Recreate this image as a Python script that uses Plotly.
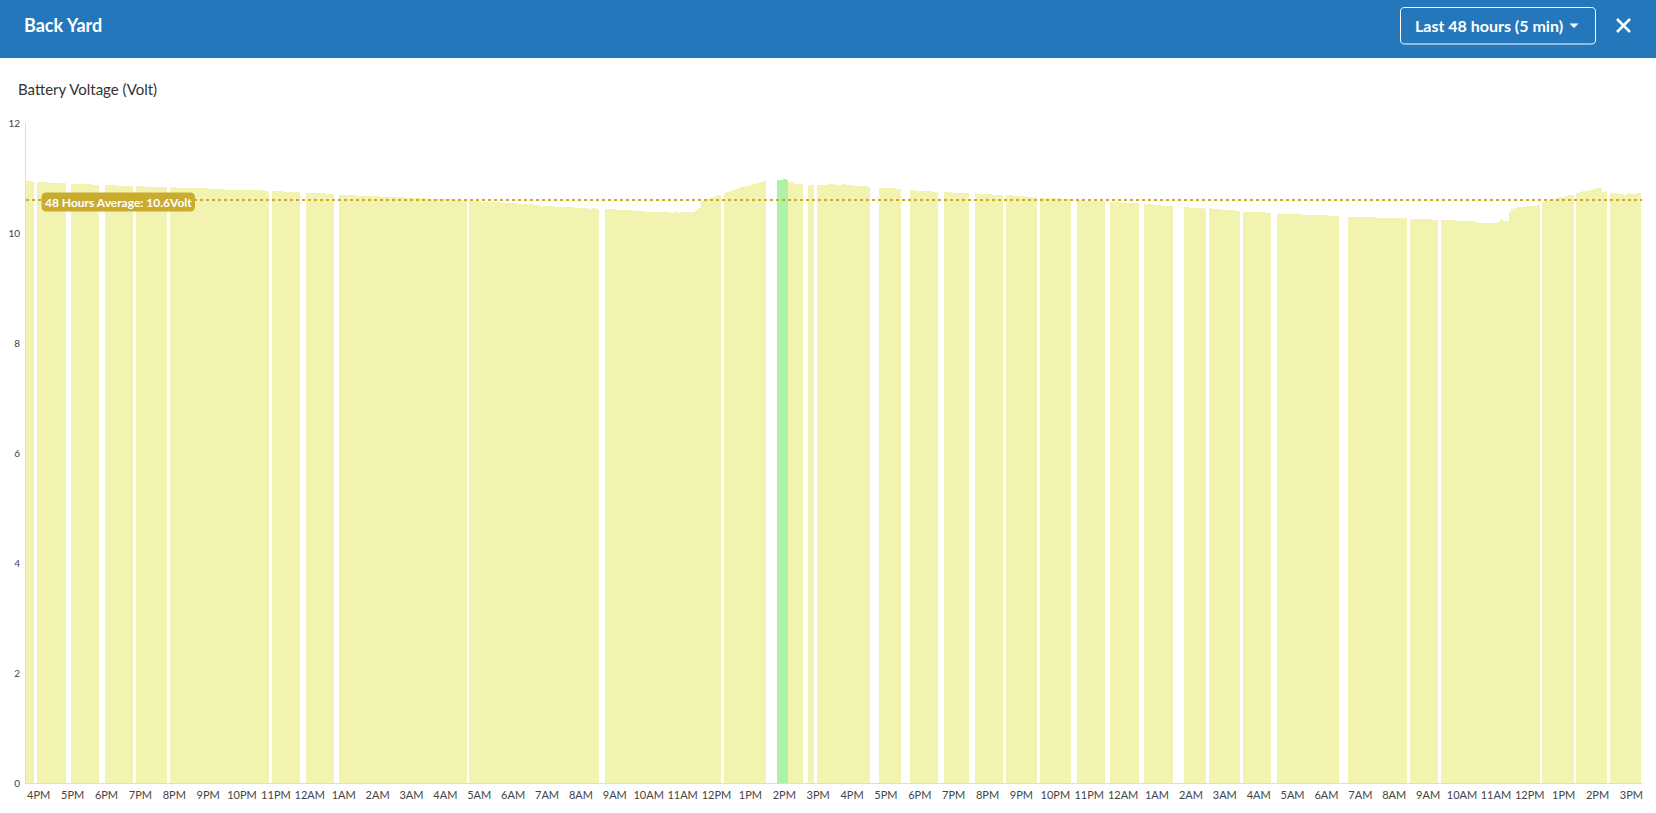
import datetime as dt
import plotly.graph_objects as go

# ---------------- data ----------------
# 5-minute slots; slot 0 centred at start_time. Each segment = consecutive readings.
start_time = dt.datetime(2024, 1, 1, 15, 40)
slot_minutes = 5

seg_start = [0, 4, 16, 28, 39, 51, 87, 99, 111, 157, 205, 247, 266, 270, 277, 280,
             302, 313, 325, 336, 347, 359, 372, 384, 396, 410, 419, 431, 443, 468,
             490, 501, 537, 549, 561]

seg_volts = [
    [10.94, 10.94, 10.93],
    [10.92, 10.92, 10.92, 10.92, 10.91, 10.91, 10.91, 10.91, 10.91, 10.91],
    [10.90, 10.90, 10.90, 10.89, 10.89, 10.89, 10.89, 10.88, 10.88, 10.88],
    [10.87, 10.87, 10.87, 10.87, 10.86, 10.86, 10.86, 10.86, 10.86, 10.86],
    [10.85, 10.85, 10.85, 10.84, 10.84, 10.84, 10.84, 10.83, 10.83, 10.83, 10.83],
    [10.83, 10.83, 10.82, 10.82, 10.82, 10.82, 10.82, 10.81, 10.81, 10.81,
     10.81, 10.81, 10.81, 10.80, 10.80, 10.80, 10.80, 10.80, 10.80, 10.79,
     10.79, 10.79, 10.79, 10.79, 10.79, 10.79, 10.78, 10.78, 10.78, 10.78,
     10.78, 10.78, 10.78, 10.77, 10.77],
    [10.76, 10.76, 10.76, 10.76, 10.75, 10.75, 10.75, 10.75, 10.75, 10.75],
    [10.73, 10.73, 10.73, 10.72, 10.72, 10.72, 10.72, 10.71, 10.71, 10.71],
    [10.70, 10.70, 10.70, 10.69, 10.69, 10.69, 10.68, 10.68, 10.68, 10.68,
     10.67, 10.67, 10.67, 10.67, 10.66, 10.66, 10.66, 10.66, 10.66, 10.65,
     10.65, 10.65, 10.65, 10.64, 10.64, 10.64, 10.64, 10.63, 10.63, 10.63,
     10.63, 10.62, 10.62, 10.62, 10.62, 10.61, 10.61, 10.61, 10.61, 10.61,
     10.60, 10.60, 10.60, 10.60, 10.60],
    [10.58, 10.58, 10.58, 10.58, 10.57, 10.57, 10.57, 10.57, 10.56, 10.56,
     10.56, 10.55, 10.55, 10.55, 10.54, 10.54, 10.54, 10.53, 10.53, 10.53,
     10.52, 10.52, 10.52, 10.51, 10.51, 10.50, 10.50, 10.49, 10.49, 10.49,
     10.48, 10.48, 10.48, 10.48, 10.48, 10.47, 10.47, 10.46, 10.46, 10.45,
     10.45, 10.45, 10.44, 10.46, 10.45, 10.44],
    [10.44, 10.44, 10.43, 10.43, 10.42, 10.42, 10.42, 10.41, 10.41, 10.41,
     10.40, 10.40, 10.40, 10.40, 10.39, 10.39, 10.39, 10.38, 10.38, 10.38,
     10.38, 10.38, 10.38, 10.37, 10.38, 10.38, 10.37, 10.38, 10.38, 10.38,
     10.38, 10.39, 10.41, 10.45, 10.58, 10.60, 10.62, 10.64, 10.66, 10.68, 10.69],
    [10.73, 10.75, 10.77, 10.79, 10.80, 10.82, 10.84, 10.85, 10.86, 10.88,
     10.89, 10.90, 10.91, 10.93, 10.94],
    [10.97, 10.97, 10.98, 10.97],
    [10.93, 10.93, 10.90, 10.90, 10.90],
    [10.87, 10.87],
    [10.88, 10.88, 10.87, 10.87, 10.90, 10.89, 10.88, 10.87, 10.87, 10.90,
     10.88, 10.87, 10.87, 10.86, 10.86, 10.85, 10.85, 10.85, 10.84],
    [10.82, 10.82, 10.82, 10.81, 10.81, 10.81, 10.80, 10.80],
    [10.78, 10.78, 10.77, 10.77, 10.76, 10.76, 10.76, 10.76, 10.75, 10.75],
    [10.74, 10.74, 10.74, 10.73, 10.73, 10.73, 10.72, 10.72, 10.72],
    [10.72, 10.71, 10.71, 10.71, 10.71, 10.71, 10.70, 10.70, 10.69, 10.69],
    [10.69, 10.69, 10.68, 10.68, 10.67, 10.67, 10.67, 10.66, 10.66, 10.66, 10.65],
    [10.64, 10.64, 10.64, 10.63, 10.63, 10.63, 10.63, 10.62, 10.62, 10.62, 10.62],
    [10.60, 10.60, 10.60, 10.59, 10.59, 10.59, 10.59, 10.58, 10.58, 10.58],
    [10.57, 10.57, 10.56, 10.56, 10.55, 10.55, 10.55, 10.55, 10.54, 10.54],
    [10.52, 10.52, 10.52, 10.51, 10.51, 10.51, 10.50, 10.50, 10.49, 10.49],
    [10.47, 10.47, 10.46, 10.46, 10.46, 10.45, 10.45, 10.44],
    [10.45, 10.43, 10.43, 10.43, 10.42, 10.42, 10.42, 10.41, 10.41, 10.40, 10.40],
    [10.39, 10.39, 10.39, 10.38, 10.38, 10.38, 10.38, 10.38, 10.37, 10.37],
    [10.35, 10.35, 10.35, 10.34, 10.34, 10.34, 10.34, 10.34, 10.34, 10.33,
     10.33, 10.33, 10.33, 10.33, 10.32, 10.32, 10.32, 10.32, 10.31, 10.31,
     10.31, 10.31],
    [10.30, 10.30, 10.30, 10.30, 10.30, 10.29, 10.29, 10.29, 10.29, 10.29,
     10.28, 10.28, 10.28, 10.27, 10.27, 10.27, 10.27, 10.27, 10.27, 10.27, 10.27],
    [10.26, 10.26, 10.26, 10.25, 10.26, 10.25, 10.25, 10.25, 10.24, 10.24],
    [10.23, 10.23, 10.23, 10.23, 10.23, 10.22, 10.22, 10.22, 10.22,
     10.21, 10.21, 10.21, 10.20,
     10.18, 10.18, 10.18, 10.18, 10.19, 10.18, 10.18,
     10.20, 10.25, 10.21, 10.22, 10.38, 10.43, 10.46, 10.47, 10.47, 10.48,
     10.49, 10.49, 10.49, 10.50, 10.51],
    [10.57, 10.58, 10.60, 10.61, 10.62, 10.63, 10.65, 10.66, 10.67, 10.69, 10.70],
    [10.73, 10.75, 10.76, 10.77, 10.78, 10.79, 10.80, 10.81, 10.82, 10.75, 10.76],
    [10.72, 10.72, 10.72, 10.71, 10.71, 10.70, 10.72, 10.71, 10.71, 10.73, 10.72],
]

highlight_segment = 12          # the green (peak) segment
average_volt = 10.6
y_ticks = [0, 2, 4, 6, 8, 10, 12]
tick_hours_start = dt.datetime(2024, 1, 1, 16, 0)
tick_hours_count = 48

# ---------------- build ----------------
W, H = 1656, 813
ML, MR, MT, MB = 26, 14, 123, 30
PW, PH = W - ML - MR, H - MT - MB


def px(x):
    return (x - ML) / PW


def py(y):
    return (H - MB - y) / PH


yellow_x, yellow_y, green_x, green_y = [], [], [], []
for i, (s, vals) in enumerate(zip(seg_start, seg_volts)):
    for j, v in enumerate(vals):
        t = start_time + dt.timedelta(minutes=slot_minutes * (s + j))
        if i == highlight_segment:
            green_x.append(t)
            green_y.append(v)
        else:
            yellow_x.append(t)
            yellow_y.append(v)

bar_w = slot_minutes * 60 * 1000

fig = go.Figure()
fig.add_trace(go.Bar(x=yellow_x, y=yellow_y, width=bar_w,
                     marker=dict(color="rgb(242,242,177)", line=dict(width=0)),
                     hoverinfo="x+y"))
fig.add_trace(go.Bar(x=green_x, y=green_y, width=bar_w,
                     marker=dict(color="rgb(173,242,168)", line=dict(width=0)),
                     hoverinfo="x+y"))

tickvals = [tick_hours_start + dt.timedelta(hours=h) for h in range(tick_hours_count)]
ticktext = [t.strftime("%I%p").lstrip("0") for t in tickvals]

x_range = [start_time - dt.timedelta(minutes=2.5),
           start_time - dt.timedelta(minutes=2.5) + dt.timedelta(minutes=PW / 2.824 * 5)]


def rrect(x0, y0, x1, y1, r):
    pts = lambda x, y: f"{px(x):.6f},{py(y):.6f}"
    return (f"M {pts(x0 + r, y0)} L {pts(x1 - r, y0)} Q {pts(x1, y0)} {pts(x1, y0 + r)} "
            f"L {pts(x1, y1 - r)} Q {pts(x1, y1)} {pts(x1 - r, y1)} "
            f"L {pts(x0 + r, y1)} Q {pts(x0, y1)} {pts(x0, y1 - r)} "
            f"L {pts(x0, y0 + r)} Q {pts(x0, y0)} {pts(x0 + r, y0)} Z")


header_blue = "rgb(36,119,187)"
gold = "rgb(201,172,46)"

shapes = [
    # header bar
    dict(type="rect", xref="paper", yref="paper", x0=px(-20), x1=px(W + 20), y0=py(58), y1=py(-10),
         fillcolor=header_blue, line=dict(width=0), layer="above"),
    # dropdown box
    dict(type="path", xref="paper", yref="paper", path=rrect(1400.5, 7.5, 1595.5, 44, 4),
         fillcolor=header_blue, line=dict(color="white", width=1), layer="above"),
    # caret
    dict(type="path", xref="paper", yref="paper",
         path=f"M {px(1569.5)},{py(23.5)} L {px(1578.5)},{py(23.5)} L {px(1574)},{py(28)} Z",
         fillcolor="white", line=dict(width=0), layer="above"),
    # close X
    dict(type="line", xref="paper", yref="paper", x0=px(1617), y0=py(19), x1=px(1630), y1=py(32),
         line=dict(color="white", width=2.5), layer="above"),
    dict(type="line", xref="paper", yref="paper", x0=px(1617), y0=py(32), x1=px(1630), y1=py(19),
         line=dict(color="white", width=2.5), layer="above"),
    # average line
    dict(type="line", xref="paper", yref="y", x0=0, x1=1, y0=average_volt, y1=average_volt,
         line=dict(color=gold, width=2, dash="dot"), layer="above"),
    # average label box
    dict(type="path", xref="paper", yref="paper", path=rrect(41.5, 192.5, 195, 211.5, 5),
         fillcolor=gold, line=dict(width=0), layer="above"),
]

font = "Lato, 'Open Sans', sans-serif"
annotations = [
    dict(text="Back Yard", xref="paper", yref="paper", x=px(22), y=py(25), xanchor="left",
         yanchor="middle", showarrow=False, font=dict(family=font, size=18, color="white", weight=700)),
    dict(text="Last 48 hours (5 min)", xref="paper", yref="paper", x=px(1489), y=py(25.5),
         xanchor="center", yanchor="middle", showarrow=False,
         font=dict(family=font, size=16, color="white", weight=700)),
    dict(text="Battery Voltage (Volt)", xref="paper", yref="paper", x=px(16), y=py(89),
         xanchor="left", yanchor="middle", showarrow=False,
         font=dict(family=font, size=15, color="#333333")),
    dict(text="48 Hours Average: 10.6Volt", xref="paper", yref="paper", x=px(118.5), y=py(202),
         xanchor="center", yanchor="middle", showarrow=False,
         font=dict(family=font, size=12, color="white", weight=700)),
]

fig.update_layout(
    template="none",
    width=W, height=H,
    margin=dict(l=ML, r=MR, t=MT, b=MB, pad=0, autoexpand=False),
    paper_bgcolor="white", plot_bgcolor="white",
    showlegend=False, bargap=0, barmode="overlay",
    shapes=shapes, annotations=annotations,
    font=dict(family=font, color="#444444"),
    xaxis=dict(type="date", range=x_range, tickmode="array", tickvals=tickvals, ticktext=ticktext,
               showgrid=False, zeroline=False, showline=True, linecolor="#dddddd", linewidth=1,
               ticks="", tickfont=dict(size=11, color="#444444"), ticklabelstandoff=2,
               automargin=False, fixedrange=True),
    yaxis=dict(range=[0, 12], tickmode="array", tickvals=y_ticks, ticktext=[str(v) for v in y_ticks],
               showgrid=False, zeroline=False, showline=True, linecolor="#dddddd", linewidth=1,
               ticks="", tickfont=dict(size=10, color="#444444"), ticklabelstandoff=3,
               automargin=False, fixedrange=True),
)

fig.write_html("out.html", config={"displayModeBar": False},
               post_script="document.body.style.margin='0';document.body.style.overflow='hidden';")
